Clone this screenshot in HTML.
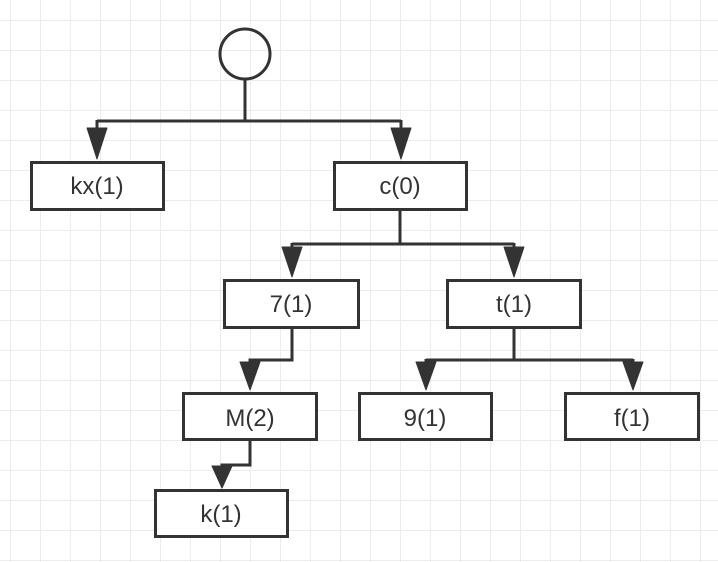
<!DOCTYPE html>
<html><head><meta charset="utf-8"><style>
html,body{margin:0;padding:0;background:#fff;}
svg{display:block;}
text{font-family:"Liberation Sans","DejaVu Sans",sans-serif;font-size:24px;fill:#333;}
</style></head><body>
<svg width="718" height="562" viewBox="0 0 718 562" xmlns="http://www.w3.org/2000/svg">
<defs>
<pattern id="g" x="10" y="20" width="30" height="30" patternUnits="userSpaceOnUse">
<path d="M0 0 H30 M0 0 V30" stroke="#ececec" stroke-width="2" fill="none"/>
</pattern>
</defs>
<rect width="718" height="562" fill="#fff"/>
<rect x="0" y="0" width="718" height="562" fill="url(#g)"/>
<g stroke="#333" stroke-width="3" fill="none">
<circle cx="245" cy="54" r="25"/>
<path d="M245 80 V121 M97 121 H401 M97 120 V130 M401 120 V130"/>
<path d="M400 211 V244 M292 244 H514 M292 243 V250 M514 243 V250"/>
<path d="M292 329 V360 H250 V364"/>
<path d="M514 329 V360 M426 360 H633 M426 359 V364 M633 359 V364"/>
<path d="M250 441 V465 H222 V468"/>
<rect x="31.5" y="162.5" width="132" height="47" fill="#fff"/>
<rect x="334.5" y="162.5" width="132" height="47" fill="#fff"/>
<rect x="224.5" y="280.5" width="134" height="47" fill="#fff"/>
<rect x="447.5" y="280.5" width="133" height="47" fill="#fff"/>
<rect x="183.5" y="393.5" width="133" height="46" fill="#fff"/>
<rect x="359.5" y="393.5" width="132" height="46" fill="#fff"/>
<rect x="565.5" y="393.5" width="133" height="46" fill="#fff"/>
<rect x="155.5" y="490.5" width="132" height="46" fill="#fff"/>
</g>
<g fill="#333" stroke="#333" stroke-width="1" stroke-linejoin="round">
<polygon points="87,128 107,128 97,159"/>
<polygon points="391,128 411,128 401,159"/>
<polygon points="282,247 302,247 292,277"/>
<polygon points="504,247 524,247 514,277"/>
<polygon points="240,362 260,362 250,390"/>
<polygon points="416,362 436,362 426,390"/>
<polygon points="623,362 643,362 633,390"/>
<polygon points="212,466 232,466 222,488"/>
</g>
<g text-anchor="middle">
<text x="97" y="194">kx(1)</text>
<text x="400" y="194">c(0)</text>
<text x="291" y="312">7(1)</text>
<text x="514" y="312">t(1)</text>
<text x="250" y="426">M(2)</text>
<text x="425" y="426">9(1)</text>
<text x="632" y="426">f(1)</text>
<text x="221" y="522">k(1)</text>
</g>
</svg>
</body></html>
